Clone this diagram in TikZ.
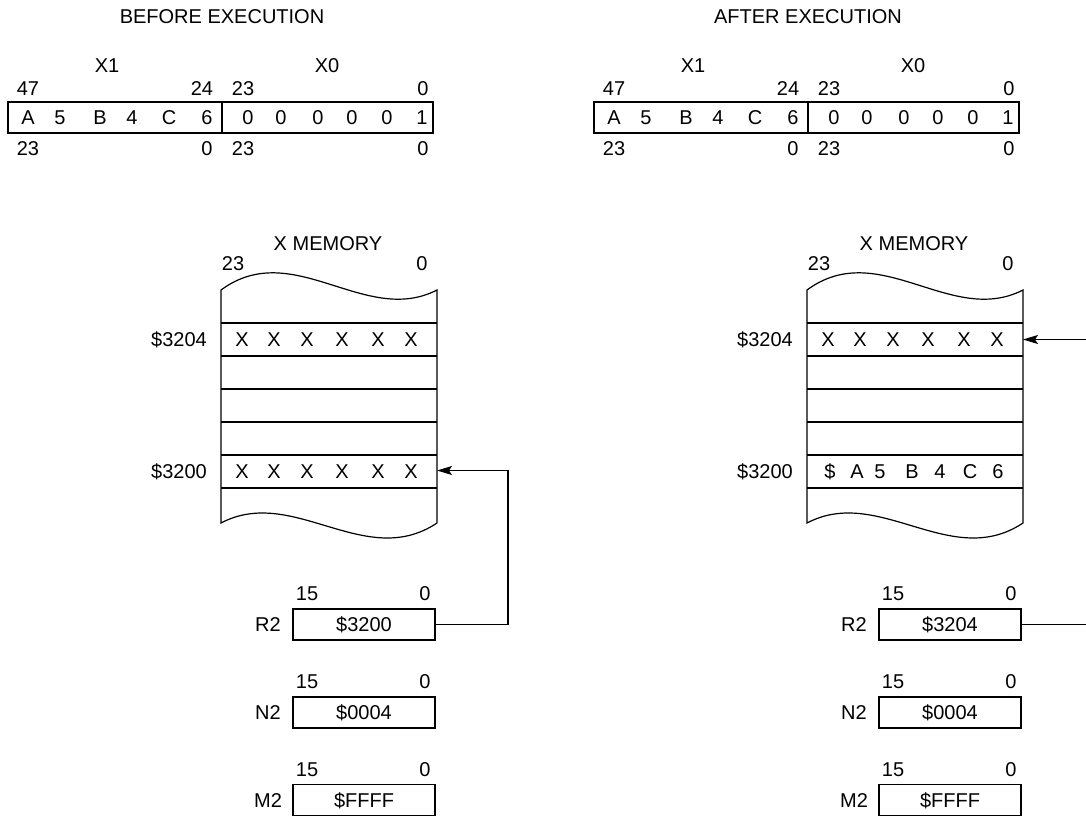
\documentclass[tikz,border=0pt]{standalone}
\usepackage{fontspec}
\setmainfont{Liberation Sans}
\usetikzlibrary{arrows.meta}
\tikzset{
  lbl/.style={inner sep=0pt,text height=14pt,text depth=0pt,font=\fontsize{20}{24}\selectfont},
  regbox/.style={draw,line width=1.2pt,inner sep=0pt,minimum width=142pt,minimum height=31pt,
    text height=14pt,text depth=0pt,font=\fontsize{20}{24}\selectfont},
  ln/.style={line width=1.2pt},
  arr/.style={line width=1.2pt,-{Stealth[length=15pt,width=9pt,inset=3pt]}}
}
\newcommand\drawpanel[5]{%
\begin{scope}[xshift=#2pt]
  \node[lbl] (#1title) at (222,17) {#3};
  \node[lbl] (#1xone) at (107,65) {X1};
  \node[lbl] (#1xzero) at (327,65) {X0};
  \foreach \t/\x [count=\i] in {47/28,24/202,23/243,0/423}
    \node[lbl] (#1tn\i) at (\x,88) {\t};
  \foreach \t/\x [count=\i] in {23/28,0/207,23/243,0/423}
    \node[lbl] (#1bn\i) at (\x,148) {\t};
  \node[draw,line width=1.2pt,inner sep=0pt,minimum width=425pt,minimum height=31pt] (#1reg) at (220.5,117.5) {};
  \draw[ln] (222,102) -- (222,133);
  \foreach \t/\x [count=\i] in {A/28,5/60,B/100,4/132,C/169,6/207,0/248,0/281,0/318,0/352,0/387,1/422}
    \node[lbl] (#1c\i) at (\x,117.5) {\t};
  % memory
  \node[lbl] (#1memt) at (328,243) {X MEMORY};
  \node[lbl] (#1mhi) at (233,263) {23};
  \node[lbl] (#1mlo) at (422,263) {0};
  \draw[ln] (221,290) .. controls (293,237) and (365,327) .. (437,290) -- (437,523)
     .. controls (365,571) and (293,485) .. (221,523) -- cycle;
  \foreach \y in {323,356,389,422,455,488} \draw[ln] (221,\y) -- (437,\y);
  \coordinate (#1mfour) at (437,339.5);
  \coordinate (#1mzero) at (437,470.5);
  \node[lbl,anchor=east] (#1afour) at (207,339.5) {\$3204};
  \node[lbl,anchor=east] (#1azero) at (207,471.5) {\$3200};
  \foreach \x [count=\i] in {242,274,307,342,378,411}
    \node[lbl] (#1xf\i) at (\x,339.5) {X};
  #4
  % registers
  \foreach \n/\v/\y [count=\i] in {R2/#5/624.5,N2/\$0004/712.5,M2/\$FFFF/800}{
    \node[regbox] (#1\n) at (364,\y) {\v};
    \node[lbl] (#1\n lab) at (268,\y) {\n};
    \node[lbl] (#1\n hi) at (307,\y-31) {15};
    \node[lbl] (#1\n lo) at (425,\y-31) {0};
  }
\end{scope}}

\begin{document}
\begin{tikzpicture}[x=1pt,y=-1pt]
\useasboundingbox (0,0) rectangle (1086,816);
\drawpanel{L}{0}{BEFORE EXECUTION}{%
  \foreach \x [count=\i] in {242,274,307,342,378,411}
    \node[lbl] (Lxz\i) at (\x,471.5) {X};}{\$3200}
\drawpanel{R}{586}{AFTER EXECUTION}{%
  \foreach \t/\x [count=\i] in {\$/244,A/271,5/294,B/326,4/354,C/384,6/412}
    \node[lbl] (Rxz\i) at (\x,471.5) {\t};}{\$3204}
% connectors
\coordinate (Lbend) at (508,624.5);
\draw[arr] (LR2.east) -- (Lbend) |- (Lmzero);
\coordinate (Redge) at (1086,624.5);
\coordinate (Rin) at (1086,339.5);
\draw[ln] (RR2.east) -- (Redge);
\draw[arr] (Rin) -- (Rmfour);
\end{tikzpicture}
\end{document}
